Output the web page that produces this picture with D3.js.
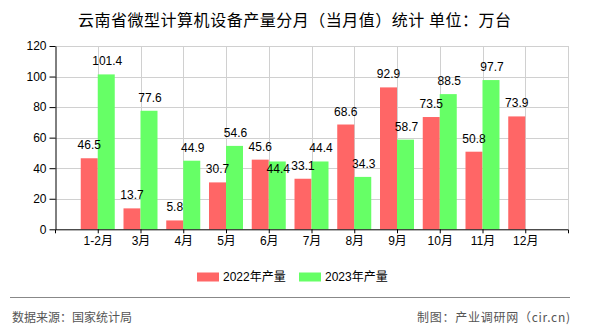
<!DOCTYPE html>
<html>
<head>
<meta charset="utf-8">
<script src="https://cdn.jsdelivr.net/npm/d3@7"></script>
<style>
  html, body { margin: 0; padding: 0; background: #fff; }
  svg { display: block; }
  text { font-family: "Liberation Sans", "Noto Sans CJK SC", sans-serif; }
</style>
</head>
<body>
<svg id="chart" width="590" height="330"></svg>
<script>
const categories = ["1-2月", "3月", "4月", "5月", "6月", "7月", "8月", "9月", "10月", "11月", "12月"];
const values2022 = [46.5, 13.7, 5.8, 30.7, 45.6, 33.1, 68.6, 92.9, 73.5, 50.8, 73.9];
const values2023 = [101.4, 77.6, 44.9, 54.6, 44.4, 44.4, 34.3, 58.7, 88.5, 97.7, null];
const yTicks = [0, 20, 40, 60, 80, 100, 120];
const seriesNames = ["2022年产量", "2023年产量"];
const titleText = "云南省微型计算机设备产量分月（当月值）统计 单位：万台";
const sourceText = "数据来源：国家统计局";
const creditText = "制图：产业调研网（cir.cn)";

const colors = ["#ff6666", "#66ff66"];
const svg = d3.select("#chart");
const plotL = 55, plotR = 568, plotT = 46, plotB = 229.3;
const barW = 17;

const x = d3.scalePoint().domain(categories).range([plotL, plotR]).padding(1);
const y = d3.scaleLinear().domain([0, 120]).range([plotB, plotT]);

// title
svg.append("text").attr("x", 78).attr("y", 18.5)
  .attr("dominant-baseline", "central")
  .attr("textLength", 433).attr("lengthAdjust", "spacing")
  .style("font-family", "'Noto Sans CJK SC', sans-serif")
  .style("font-size", "16px").attr("fill", "#000").text(titleText);

// grid
const grid = svg.append("g").attr("stroke", "#d0d0d0").attr("stroke-width", 1);
yTicks.filter(t => t > 0).forEach(t => {
  grid.append("line").attr("x1", plotL).attr("x2", plotR)
    .attr("y1", Math.round(y(t)) + 0.5).attr("y2", Math.round(y(t)) + 0.5);
});
categories.forEach(c => {
  grid.append("line").attr("x1", Math.round(x(c)) + 0.5).attr("x2", Math.round(x(c)) + 0.5)
    .attr("y1", plotT).attr("y2", plotB);
});
grid.append("line").attr("x1", plotR + 0.5).attr("x2", plotR + 0.5).attr("y1", plotT).attr("y2", plotB);

// bars
const series = [values2022, values2023];
series.forEach((vals, si) => {
  svg.append("g").selectAll("rect")
    .data(categories.map((c, i) => ({c, v: vals[i]})).filter(d => d.v != null))
    .join("rect")
    .attr("x", d => x(d.c) + (si === 0 ? -barW : 0))
    .attr("width", barW)
    .attr("y", d => y(d.v))
    .attr("height", d => y(0) - y(d.v))
    .attr("fill", colors[si]);
});

// labels with simple collision avoidance
const labG = svg.append("g").style("font-size", "12px").attr("fill", "#000")
  .attr("text-anchor", "middle").attr("dominant-baseline", "central");
categories.forEach((c, i) => {
  const v1 = values2022[i], v2 = values2023[i];
  const y1 = y(v1) - 13;
  labG.append("text").attr("x", x(c) - barW / 2).attr("y", y1).text(v1.toFixed(1));
  if (v2 != null) {
    let y2 = y(v2) - 13;
    if (Math.abs(y2 - y1) < 14) y2 = y(v2) + 8;
    labG.append("text").attr("x", x(c) + barW / 2 + 1).attr("y", y2).text(v2.toFixed(1));
  }
});

// axes
const yAxis = d3.axisLeft(y).tickValues(yTicks).tickSize(6).tickSizeOuter(0).tickPadding(3);
const yg = svg.append("g").attr("transform", `translate(${plotL + 0.5},0)`).call(yAxis);
const xAxis = d3.axisBottom(x).tickSize(4).tickSizeOuter(4).tickPadding(3);
const xg = svg.append("g").attr("transform", `translate(0,${plotB})`).call(xAxis);
[yg, xg].forEach(g => {
  g.selectAll("path,line").attr("stroke", "#000");
  g.selectAll("text").attr("fill", "#000").style("font-size", "12px")
    .style("font-family", "'Liberation Sans','Noto Sans CJK SC',sans-serif");
});

// legend
const legend = svg.append("g");
const legX = [197, 299];
seriesNames.forEach((n, i) => {
  legend.append("rect").attr("x", legX[i]).attr("y", 272.5).attr("width", 22).attr("height", 9).attr("fill", colors[i]);
  legend.append("text").attr("x", legX[i] + 26).attr("y", 277).attr("dominant-baseline", "central")
    .style("font-size", "12px").attr("fill", "#000").text(n);
});

// footer
svg.append("line").attr("x1", 10).attr("x2", 570).attr("y1", 297.5).attr("y2", 297.5)
  .attr("stroke", "#888").attr("stroke-width", 1);
svg.append("text").attr("x", 12).attr("y", 316).attr("dominant-baseline", "central")
  .attr("textLength", 120).attr("lengthAdjust", "spacing")
  .style("font-family", "'Noto Sans CJK SC', sans-serif")
  .style("font-size", "12px").attr("fill", "#555").text(sourceText);
svg.append("text").attr("x", 417).attr("y", 316).attr("dominant-baseline", "central")
  .attr("textLength", 153).attr("lengthAdjust", "spacing")
  .style("font-family", "'Noto Sans CJK SC', sans-serif")
  .style("font-size", "12px").attr("fill", "#555").text(creditText);
</script>
</body>
</html>
